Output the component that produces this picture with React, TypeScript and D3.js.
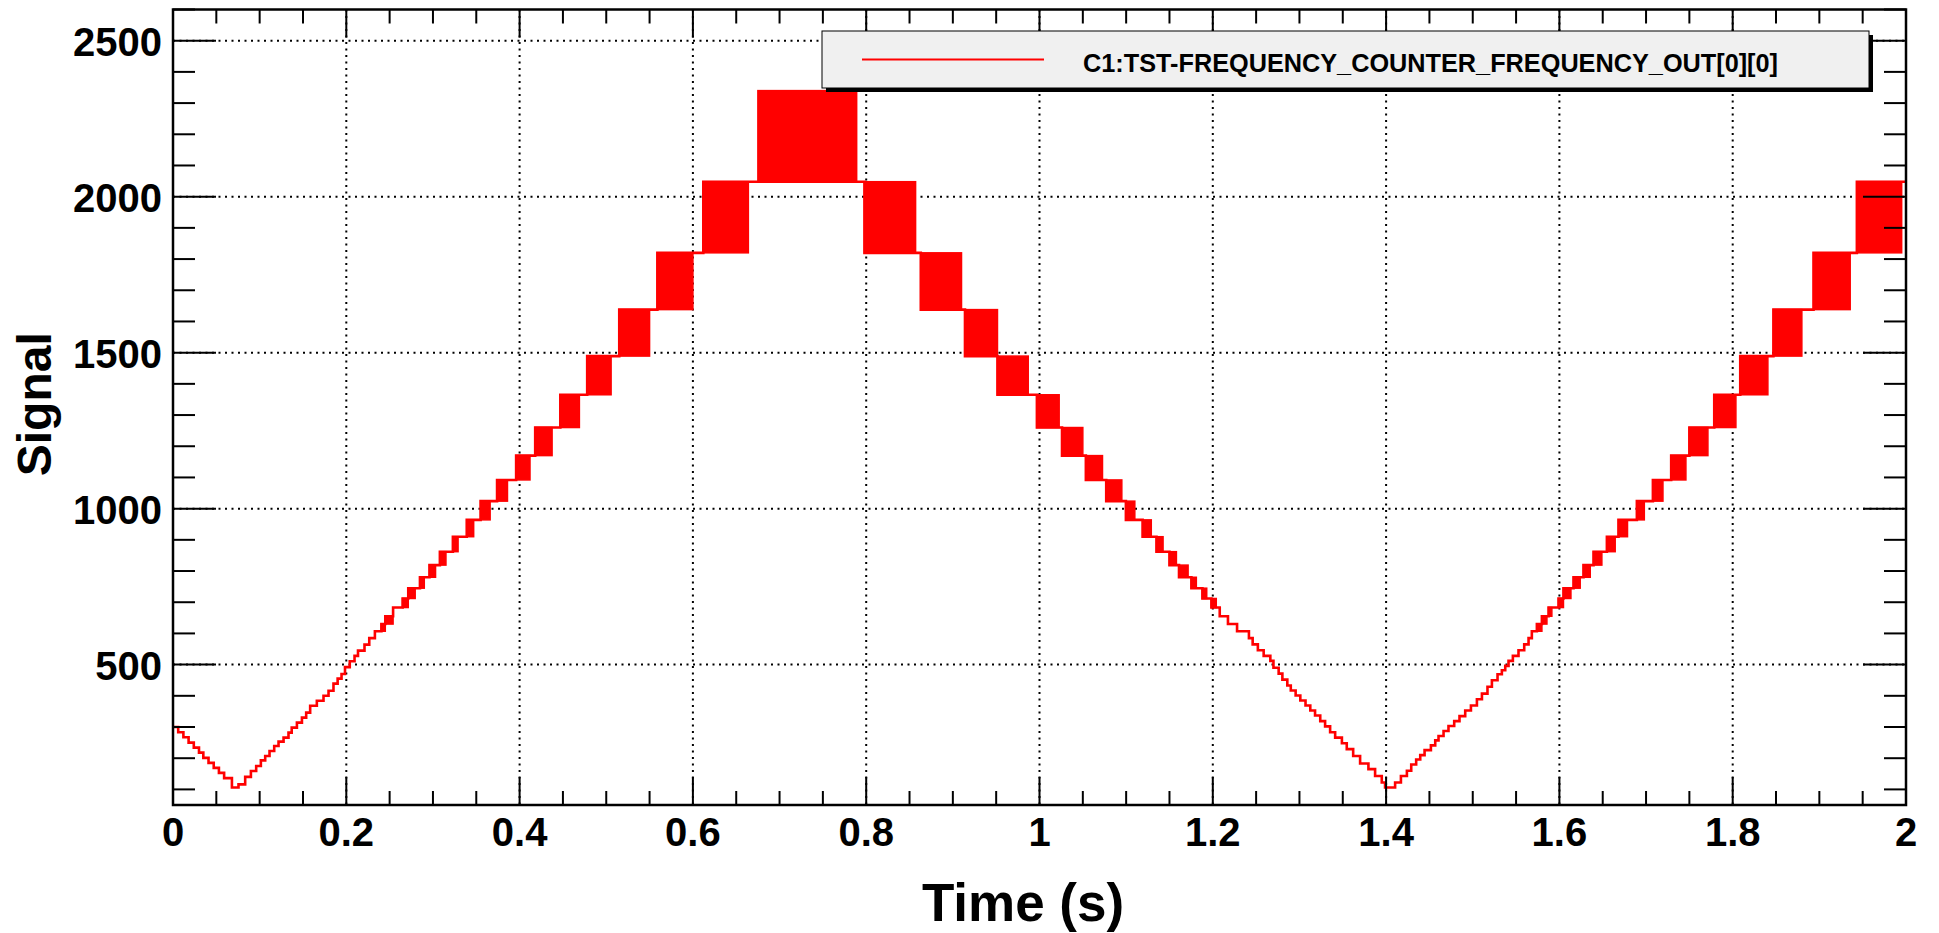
import React, { useEffect, useRef } from 'react';
import * as d3 from 'd3';

const WIDTH = 1939;
const HEIGHT = 933;

const xTitle = 'Time (s)';
const yTitle = 'Signal';
const seriesName = 'C1:TST-FREQUENCY_COUNTER_FREQUENCY_OUT[0][0]';

const xDomain = [0, 2];
const yDomain = [50, 2600];

// counter output: time (s) where the value changes and the value it changes to
const traceTimes = [
  0, 0.006, 0.012, 0.018, 0.024, 0.03, 0.035, 0.041, 0.047, 0.053, 0.059, 0.068,
  0.0756, 0.0833, 0.0899, 0.096, 0.1014, 0.1064, 0.1114, 0.1168, 0.1218, 0.1276, 0.1333, 0.137,
  0.143, 0.1488, 0.1537, 0.1583, 0.166, 0.1737, 0.1795, 0.1852, 0.19, 0.1945, 0.1985, 0.204,
  0.2095, 0.2135, 0.221, 0.2265, 0.233, 0.2405, 0.245, 0.254, 0.265, 0.2715, 0.285, 0.296,
  0.308, 0.323, 0.339, 0.355, 0.374, 0.396, 0.418, 0.447, 0.478, 0.515, 0.559, 0.612,
  0.798, 0.863, 0.914, 0.9515, 0.997, 1.026, 1.0535, 1.077, 1.0997, 1.119, 1.135, 1.15,
  1.161, 1.1753, 1.188, 1.1984, 1.208, 1.2175, 1.228, 1.2417, 1.246, 1.252, 1.2587, 1.2664,
  1.27, 1.276, 1.2803, 1.286, 1.29, 1.2956, 1.301, 1.307, 1.3125, 1.318, 1.324, 1.3296,
  1.3354, 1.3412, 1.349, 1.3546, 1.362, 1.37, 1.3796, 1.3873, 1.395, 1.3988,
  1.4104, 1.4171, 1.424, 1.429, 1.4347, 1.4394, 1.4444, 1.4517, 1.4567, 1.4605, 1.4663, 1.472,
  1.4786, 1.4847, 1.4913, 1.4979, 1.5048, 1.5106, 1.517, 1.5221, 1.5286, 1.5336, 1.5375, 1.5413,
  1.5463, 1.5528, 1.5594, 1.5644, 1.5682, 1.574, 1.5798, 1.5875, 1.599, 1.6047, 1.6163, 1.6278,
  1.6394, 1.6548, 1.6682, 1.6894, 1.7079, 1.729, 1.75, 1.7787, 1.8087, 1.847, 1.8933, 1.9433, 2.0,
];
const traceValues = [
  300, 283, 267, 250, 234, 218, 201, 185, 169, 153, 136, 106,
  116, 140, 159, 175, 193, 207, 223, 239, 253, 266, 282, 298,
  314, 330, 346, 368, 384, 400, 416, 439, 455, 470, 492, 511,
  528, 545, 564, 585, 607, 630, 655, 683, 712, 745, 780, 819,
  862, 910, 964, 1024, 1092, 1170, 1260, 1365, 1489, 1638, 1820, 2048,
  1820, 1638, 1489, 1365, 1260, 1170, 1092, 1024, 964, 910, 862, 819,
  780, 745, 712, 683, 655, 630, 607, 585, 565, 546, 528, 512,
  490, 471, 452, 433, 417, 401, 385, 369, 353, 337, 319, 302,
  283, 266, 248, 229, 207, 183, 165, 143, 122, 106,
  122, 143, 160, 180, 196, 210, 226, 241, 257, 271, 287, 303,
  319, 335, 353, 369, 389, 407, 429, 450, 469, 482, 496, 512,
  528, 546, 565, 585, 607, 630, 655, 683, 712, 745, 780, 819,
  862, 910, 964, 1024, 1092, 1170, 1260, 1365, 1489, 1638, 1820, 2048, 2048,
];

// stretches where the output toggles quickly between two neighbouring levels
const blockStart = [
  0.2405, 0.245, 0.265, 0.2715, 0.285, 0.296, 0.308, 0.323, 0.339, 0.355, 0.374, 0.396,
  0.418, 0.447, 0.478, 0.515, 0.559, 0.612, 0.675,
  0.798, 0.863, 0.914, 0.9515, 0.997, 1.026, 1.0535, 1.077, 1.0997, 1.119, 1.135, 1.15,
  1.161, 1.1753, 1.188, 1.1984,
  1.574, 1.5798, 1.5875, 1.599, 1.6047, 1.6163, 1.6278, 1.6394, 1.6548, 1.6682, 1.6894, 1.7079,
  1.729, 1.75, 1.7787, 1.8087, 1.847, 1.8933, 1.9433,
];
const blockEnd = [
  0.245, 0.254, 0.2715, 0.2795, 0.29, 0.303, 0.315, 0.329, 0.347, 0.366, 0.386, 0.412,
  0.4375, 0.469, 0.5056, 0.55, 0.6, 0.664, 0.789,
  0.857, 0.91, 0.9515, 0.987, 1.0227, 1.05, 1.0727, 1.095, 1.11, 1.129, 1.1426, 1.158,
  1.1715, 1.181, 1.193, 1.204,
  1.5798, 1.5856, 1.5913, 1.6047, 1.6133, 1.624, 1.6356, 1.649, 1.6644, 1.6786, 1.698, 1.7195,
  1.746, 1.7714, 1.8037, 1.8406, 1.8798, 1.9356, 1.995,
];
const blockLow = [
  607, 630, 683, 712, 745, 780, 819, 862, 910, 964, 1024, 1092,
  1170, 1260, 1365, 1489, 1638, 1820, 2048,
  1820, 1638, 1489, 1365, 1260, 1170, 1092, 1024, 964, 910, 862, 819,
  780, 745, 712, 683,
  607, 630, 655, 683, 712, 745, 780, 819, 862, 910, 964, 1024,
  1092, 1170, 1260, 1365, 1489, 1638, 1820,
];
const blockHigh = [
  630, 655, 712, 745, 780, 819, 862, 910, 964, 1024, 1092, 1170,
  1260, 1365, 1489, 1638, 1820, 2048, 2340,
  2048, 1820, 1638, 1489, 1365, 1260, 1170, 1092, 1024, 964, 910, 862,
  819, 780, 745, 712,
  630, 655, 683, 712, 745, 780, 819, 862, 910, 964, 1024, 1092,
  1170, 1260, 1365, 1489, 1638, 1820, 2048,
];

const FONT = "'Liberation Sans', Arial, Helvetica, sans-serif";
const RED = '#ff0000';

const App: React.FC = () => {
  const svgRef = useRef<SVGSVGElement>(null);

  useEffect(() => {
    if (!svgRef.current) return;
    const svg = d3.select(svgRef.current);
    svg.selectAll('*').remove();

    const margin = { top: 9.5, right: 33, bottom: 128, left: 173 };
    const innerWidth = WIDTH - margin.left - margin.right;
    const innerHeight = HEIGHT - margin.top - margin.bottom;

    svg.append('rect').attr('width', WIDTH).attr('height', HEIGHT).attr('fill', '#ffffff');

    const g = svg.append('g').attr('transform', `translate(${margin.left},${margin.top})`);

    const x = d3.scaleLinear().domain(xDomain).range([0, innerWidth]);
    const y = d3.scaleLinear().domain(yDomain).range([innerHeight, 0]);

    const xMajor = x.ticks(10);
    const xMinor = x.ticks(40);
    const yMajor = y.ticks(5);
    const yMinor = y.ticks(25);

    // dotted grid at the major ticks
    const grid = g.append('g').attr('stroke', '#000').attr('stroke-width', 2).attr('stroke-dasharray', '2 4.5');
    grid
      .selectAll('line.gx')
      .data(xMajor.filter((d) => d > xDomain[0] && d < xDomain[1]))
      .join('line')
      .attr('class', 'gx')
      .attr('x1', (d) => x(d))
      .attr('x2', (d) => x(d))
      .attr('y1', 0)
      .attr('y2', innerHeight);
    grid
      .selectAll('line.gy')
      .data(yMajor)
      .join('line')
      .attr('class', 'gy')
      .attr('y1', (d) => y(d))
      .attr('y2', (d) => y(d))
      .attr('x1', 0)
      .attr('x2', innerWidth);

    // toggling blocks
    const blocks = blockStart.map((s, i) => ({ s, e: blockEnd[i], lo: blockLow[i], hi: blockHigh[i] }));
    g.append('g')
      .selectAll('rect')
      .data(blocks)
      .join('rect')
      .attr('x', (d) => x(d.s))
      .attr('width', (d) => x(d.e) - x(d.s))
      .attr('y', (d) => y(d.hi))
      .attr('height', (d) => y(d.lo) - y(d.hi))
      .attr('fill', RED)
      .attr('stroke', RED)
      .attr('stroke-width', 1.5);

    // stepped trace
    const points: [number, number][] = traceTimes.map((t, i) => [t, traceValues[i]]);
    const line = d3
      .line<[number, number]>()
      .x((d) => x(d[0]))
      .y((d) => y(d[1]))
      .curve(d3.curveStepAfter);
    g.append('path')
      .attr('d', line(points))
      .attr('fill', 'none')
      .attr('stroke', RED)
      .attr('stroke-width', 2.6);

    // frame and ticks on all four sides
    const axes = g.append('g').attr('stroke', '#000').attr('stroke-width', 2);
    axes
      .append('rect')
      .attr('width', innerWidth)
      .attr('height', innerHeight)
      .attr('fill', 'none')
      .attr('stroke-width', 2.5);

    const xTickLen = (d: number) => (xMajor.some((m) => Math.abs(m - d) < 1e-9) ? 28 : 14);
    const yTickLen = (d: number) => (yMajor.includes(d) ? 43 : 22);

    axes
      .selectAll('line.xb')
      .data(xMinor)
      .join('line')
      .attr('class', 'xb')
      .attr('x1', (d) => x(d))
      .attr('x2', (d) => x(d))
      .attr('y1', innerHeight)
      .attr('y2', (d) => innerHeight - xTickLen(d));
    axes
      .selectAll('line.xt')
      .data(xMinor)
      .join('line')
      .attr('class', 'xt')
      .attr('x1', (d) => x(d))
      .attr('x2', (d) => x(d))
      .attr('y1', 0)
      .attr('y2', (d) => xTickLen(d));
    axes
      .selectAll('line.yl')
      .data(yMinor)
      .join('line')
      .attr('class', 'yl')
      .attr('y1', (d) => y(d))
      .attr('y2', (d) => y(d))
      .attr('x1', 0)
      .attr('x2', (d) => yTickLen(d));
    axes
      .selectAll('line.yr')
      .data(yMinor)
      .join('line')
      .attr('class', 'yr')
      .attr('y1', (d) => y(d))
      .attr('y2', (d) => y(d))
      .attr('x1', innerWidth)
      .attr('x2', (d) => innerWidth - yTickLen(d));

    // tick labels
    g.append('g')
      .selectAll('text')
      .data(xMajor)
      .join('text')
      .attr('x', (d) => x(d))
      .attr('y', innerHeight + 41)
      .attr('text-anchor', 'middle')
      .style('font-family', FONT)
      .style('font-weight', 'bold')
      .style('font-size', '40px')
      .text((d) => d3.format('~g')(d));

    g.append('g')
      .selectAll('text')
      .data(yMajor)
      .join('text')
      .attr('x', -11)
      .attr('y', (d) => y(d) + 15.5)
      .attr('text-anchor', 'end')
      .style('font-family', FONT)
      .style('font-weight', 'bold')
      .style('font-size', '40px')
      .text((d) => String(d));

    // axis titles
    svg
      .append('text')
      .attr('x', 1023)
      .attr('y', 921)
      .attr('text-anchor', 'middle')
      .style('font-family', FONT)
      .style('font-weight', 'bold')
      .style('font-size', '53px')
      .text(xTitle);

    svg
      .append('text')
      .attr('transform', `translate(51,${margin.top + innerHeight / 2 - 3}) rotate(-90)`)
      .attr('text-anchor', 'middle')
      .style('font-family', FONT)
      .style('font-weight', 'bold')
      .style('font-size', '48px')
      .text(yTitle);

    // legend box with drop shadow
    const legend = svg.append('g').attr('transform', 'translate(822,31)');
    const lw = 1047;
    const lh = 57;
    legend.append('rect').attr('x', 4).attr('y', 4).attr('width', lw).attr('height', lh).attr('fill', '#000');
    legend
      .append('rect')
      .attr('width', lw)
      .attr('height', lh)
      .attr('fill', '#f0f0f0')
      .attr('stroke', '#000')
      .attr('stroke-width', 1);
    legend
      .append('line')
      .attr('x1', 40)
      .attr('x2', 222)
      .attr('y1', 28.5)
      .attr('y2', 28.5)
      .attr('stroke', RED)
      .attr('stroke-width', 2);
    legend
      .append('text')
      .attr('x', 261)
      .attr('y', 41)
      .attr('textLength', 695)
      .attr('lengthAdjust', 'spacingAndGlyphs')
      .style('font-family', FONT)
      .style('font-weight', 'bold')
      .style('font-size', '25.5px')
      .text(seriesName);
  }, []);

  return (
    <svg
      ref={svgRef}
      width={WIDTH}
      height={HEIGHT}
      style={{ position: 'absolute', left: 0, top: 0, background: '#fff' }}
    />
  );
};

export default App;
